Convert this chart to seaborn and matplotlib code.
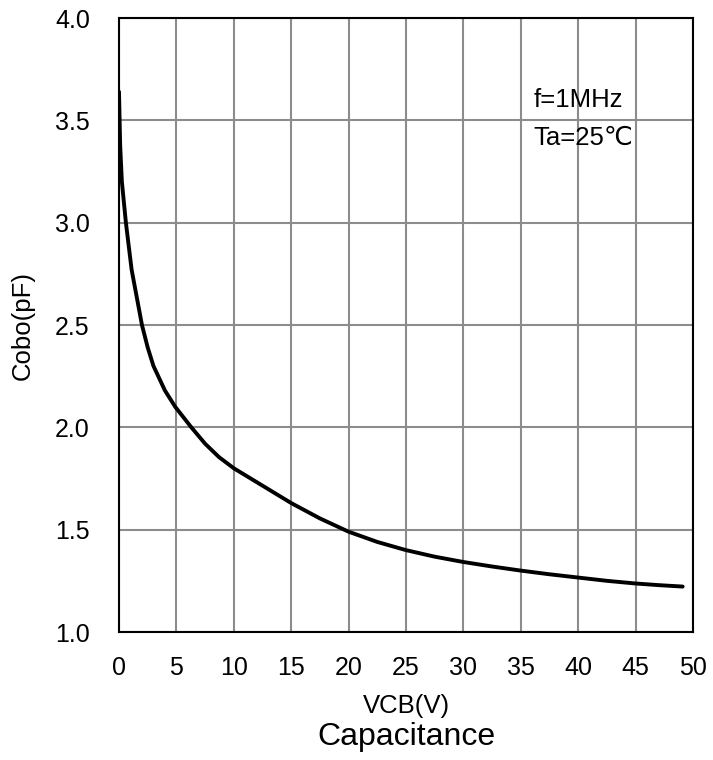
import matplotlib
matplotlib.use("Agg")
import matplotlib.pyplot as plt
import seaborn as sns
import pandas as pd

vcb = [0, 0.1, 0.25, 0.6, 1.1, 2.0, 2.5, 3.0, 4.0, 4.9, 6.3, 7.5, 8.7, 10, 12.5, 15, 17.5,
       20, 22.5, 25, 27.5, 30, 32.5, 35, 37.5, 40, 42.5, 45, 47, 49.1]
cobo = [3.64, 3.38, 3.2, 3.0, 2.77, 2.5, 2.39, 2.30, 2.18, 2.1, 2.0, 1.92, 1.855, 1.80, 1.715, 1.63, 1.555,
        1.49, 1.44, 1.40, 1.368, 1.342, 1.32, 1.30, 1.282, 1.266, 1.25, 1.237, 1.229, 1.222]
xticks = [0, 5, 10, 15, 20, 25, 30, 35, 40, 45, 50]
yticks = [1.0, 1.5, 2.0, 2.5, 3.0, 3.5, 4.0]

sns.set_theme(style="white")
plt.rcParams['font.family'] = ['Liberation Sans', 'DejaVu Sans']
plt.rcParams['text.color'] = 'black'
plt.rcParams['axes.labelcolor'] = 'black'

df = pd.DataFrame({"VCB": vcb, "Cobo": cobo})

fig = plt.figure(figsize=(7.13, 7.6), dpi=100)
ax = fig.add_axes([119/713, 1-632/760, (693-119)/713, (632-18)/760])

sns.lineplot(data=df, x="VCB", y="Cobo", ax=ax, color="black", linewidth=2.8, zorder=3)

ax.set_xlim(0, 50)
ax.set_ylim(1.0, 4.0)
ax.set_xticks(xticks)
ax.set_yticks(yticks)
ax.set_xticklabels([str(t) for t in xticks], fontsize=18)
ax.set_yticklabels([f"{t:.1f}" for t in yticks], fontsize=18)
ax.tick_params(axis="x", length=0, pad=17, colors="black")
ax.tick_params(axis="y", length=0, pad=21, colors="black")
ax.grid(True, color="#8c8c8c", linewidth=1.5)
for s in ax.spines.values():
    s.set_color("black")
    s.set_linewidth(1.5)
    s.set_visible(True)

ax.set_xlabel("VCB(V)", fontsize=18.5, color="black")
ax.set_ylabel("Cobo(pF)", fontsize=18.5, color="black")
ax.xaxis.label.set_va("center")
ax.yaxis.label.set_va("center")
ax.xaxis.set_label_coords(0.5, (632-706)/614)
ax.yaxis.set_label_coords((22.5-119)/574, 0.5)

ax.text(36.1, 3.597, "f=1MHz", fontsize=18.5, va="center", ha="left", color="black")
ax.text(36.1, 3.414, "Ta=25℃", fontsize=18.5, va="center", ha="left", color="black")

fig.text((119+693)/2/713, 1-737/760, "Capacitance", fontsize=23, ha="center", va="center", color="black")

fig.savefig("out.png", dpi=100)
